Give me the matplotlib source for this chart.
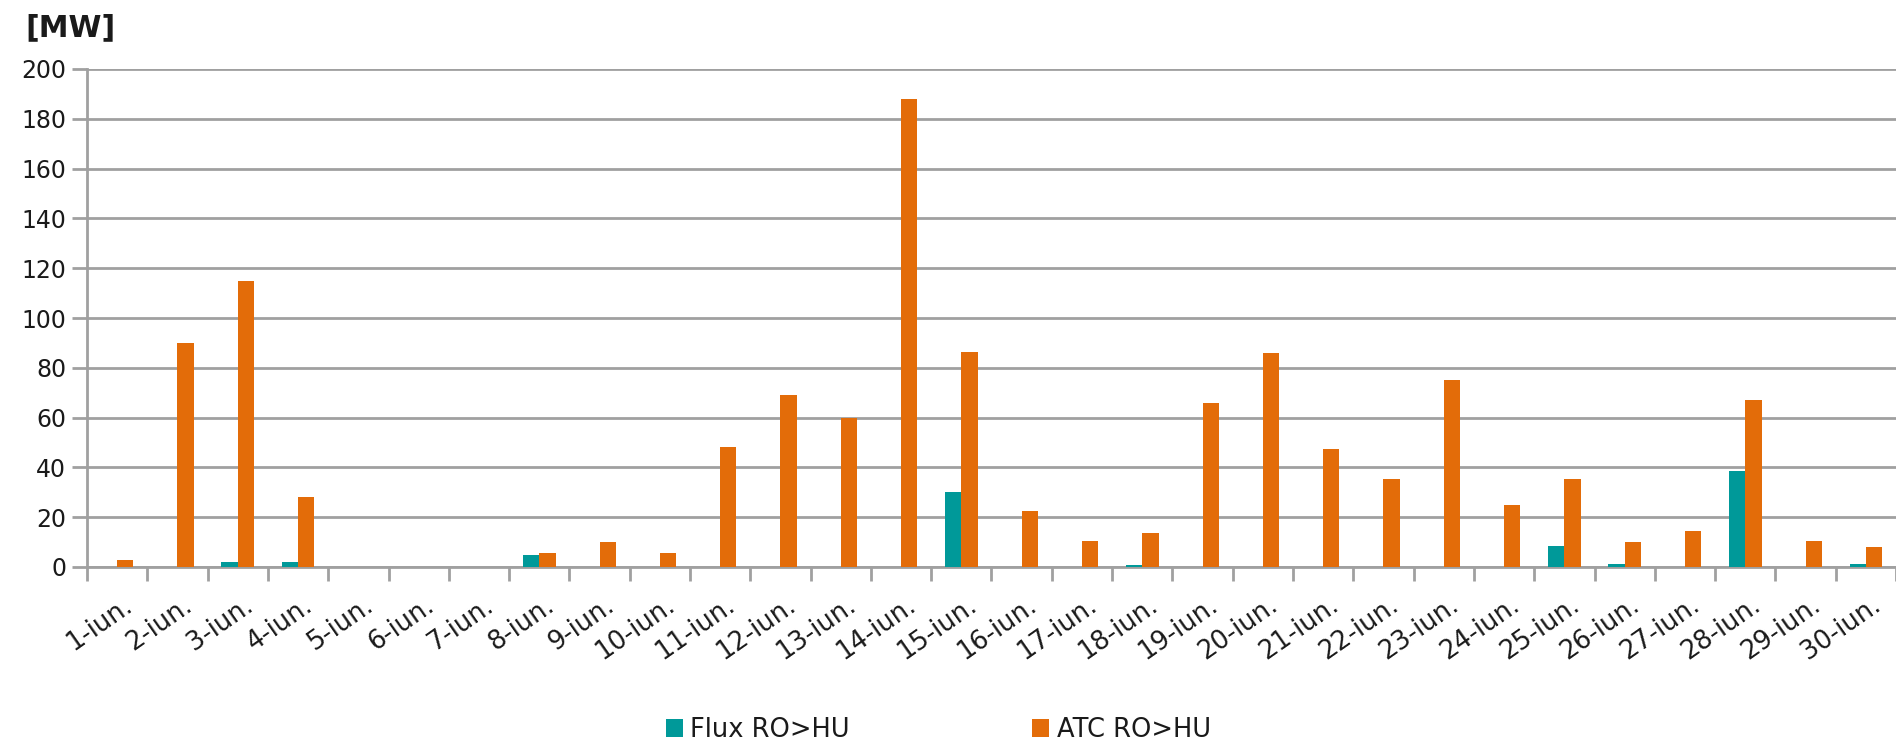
import numpy as np
import matplotlib
matplotlib.use('Agg')
import matplotlib.pyplot as plt
import matplotlib.transforms as mtrans

days = [f'{d}-iun.' for d in range(1, 31)]

flux = [0, 0, 2, 2, 0, 0, 0, 5, 0, 0,
        0, 0, 0, 0, 30, 0, 0, 0.7, 0, 0,
        0, 0, 0, 0, 8.5, 1.3, 0, 38.7, 0, 1.3]
atc = [3, 90, 115, 28, 0, 0, 0, 5.5, 10, 5.5,
       48, 69, 60, 188, 86.5, 22.5, 10.5, 13.5, 66, 86,
       47.5, 35.5, 75, 25, 35.5, 10, 14.5, 67, 10.5, 8]

teal = '#009999'
orange = '#E36C09'
grey = '#A0A0A0'
ink = '#1a1a1a'

W, H = 1896, 742
fig = plt.figure(figsize=(W / 100, H / 100), dpi=100)
ax = fig.add_axes([87 / W, 1 - 567 / H, 1 - 87 / W, (567 - 69) / H])

x = np.arange(len(days))
w = 0.27
ax.bar(x - w / 2, flux, w, color=teal, label='Flux RO>HU', zorder=3)
ax.bar(x + w / 2, atc, w, color=orange, label='ATC RO>HU', zorder=3)

ax.set_ylim(0, 200)
ax.set_xlim(-0.5, 29.4)
ax.set_yticks(range(0, 201, 20))
ax.yaxis.grid(True, color=grey, linewidth=2, zorder=0)
ax.tick_params(axis='y', colors=grey, length=11, width=2, labelsize=17,
               labelcolor=ink, pad=4)

ax.set_xticks(np.arange(-0.5, 30, 1))
ax.set_xticklabels([])
ax.set_xticks(x, minor=True)
ax.set_xticklabels(days, minor=True, rotation=35, ha='right',
                   rotation_mode='anchor', fontsize=18.5, color=ink)
ax.tick_params(axis='x', which='major', colors=grey, length=10, width=2)
ax.tick_params(axis='x', which='minor', length=0, pad=18)
shift = mtrans.ScaledTranslation(5 / 100, 0, fig.dpi_scale_trans)
for lab in ax.get_xticklabels(minor=True):
    lab.set_transform(lab.get_transform() + shift)

for s in ['top', 'right']:
    ax.spines[s].set_visible(False)
for s in ['left', 'bottom']:
    ax.spines[s].set_color(grey)
    ax.spines[s].set_linewidth(2)

fig.text(25 / W, 1 - 28 / H, '[MW]', fontsize=21.5, fontweight='bold',
         va='center', ha='left', color=ink)

fig.legend(loc='center', bbox_to_anchor=(0.495, 0.016), ncol=2, frameon=False,
           fontsize=18.5, handlelength=0.66, handleheight=0.66,
           columnspacing=7.1, handletextpad=0.3, labelcolor=ink)

fig.savefig('out.png', dpi=100)
